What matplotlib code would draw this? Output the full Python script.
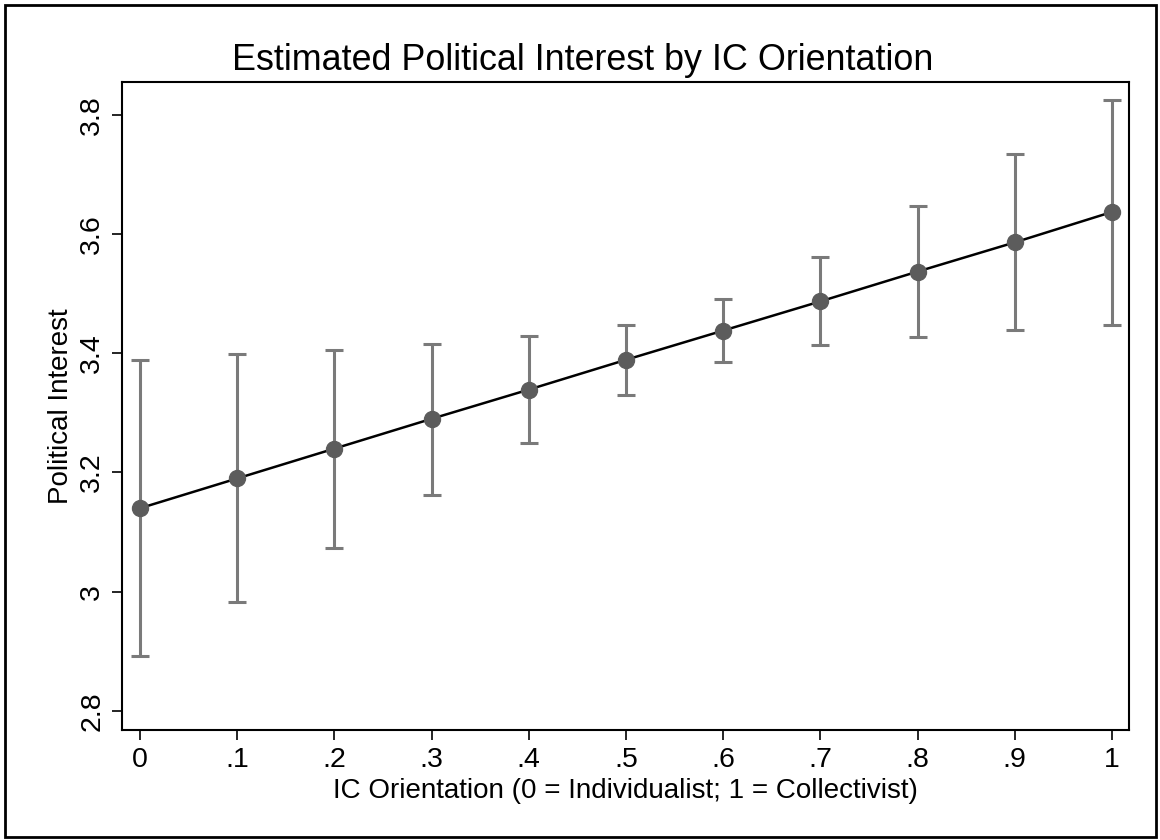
import matplotlib
matplotlib.use("Agg")
import matplotlib.pyplot as plt
from matplotlib.patches import Rectangle

plt.rcParams['font.family'] = ['Liberation Sans', 'DejaVu Sans']

# predicted political interest with 95% CIs at each IC orientation value
ic_orientation = [0, .1, .2, .3, .4, .5, .6, .7, .8, .9, 1]
estimate = [3.140, 3.190, 3.240, 3.290, 3.339, 3.389, 3.438, 3.487, 3.537, 3.586, 3.637]
ci_low = [2.892, 2.982, 3.073, 3.162, 3.249, 3.330, 3.386, 3.414, 3.428, 3.439, 3.448]
ci_high = [3.389, 3.398, 3.406, 3.416, 3.429, 3.448, 3.491, 3.562, 3.647, 3.735, 3.825]
x_ticklabels = ['0', '.1', '.2', '.3', '.4', '.5', '.6', '.7', '.8', '.9', '1']
y_ticks = [2.8, 3.0, 3.2, 3.4, 3.6, 3.8]
y_ticklabels = ['2.8', '3', '3.2', '3.4', '3.6', '3.8']

fig = plt.figure(figsize=(11.6, 8.4), dpi=100)
ax = fig.add_axes([122/1160, 1 - 730/840, (1129-122)/1160, (730-82)/840])

yerr = [[e - l for e, l in zip(estimate, ci_low)],
        [h - e for e, h in zip(estimate, ci_high)]]
ax.errorbar(ic_orientation, estimate, yerr=yerr, fmt='none',
            ecolor='#7a7a7a', elinewidth=2.2, capsize=6.5, capthick=2.2, zorder=2)
ax.plot(ic_orientation, estimate, color='black', lw=1.8, zorder=3)
ax.plot(ic_orientation, estimate, 'o', color='#5c5c5c', ms=11.5, zorder=4)

ax.set_xlim(-0.0185, 1.0175)
ax.set_ylim(2.768, 3.855)
ax.set_xticks(ic_orientation)
ax.set_xticklabels(x_ticklabels)
ax.set_yticks(y_ticks)
ax.set_yticklabels(y_ticklabels, rotation=90, va='center')
ax.tick_params(length=7, width=1.2, labelsize=20.5, pad=5)
for s in ax.spines.values():
    s.set_linewidth(1.5)

ax.set_xlabel('IC Orientation (0 = Individualist; 1 = Collectivist)', fontsize=20, labelpad=4)
ax.set_ylabel('Political Interest', fontsize=20, labelpad=4)
fig.text(0.502, 1 - 60/840, 'Estimated Political Interest by IC Orientation',
         ha='center', va='center', fontsize=25.8)

# outer frame around the whole graph
fig.patches.append(Rectangle((5/1160, 3/840), 1151/1160, 832/840, transform=fig.transFigure,
                             fill=False, edgecolor='black', lw=2))

fig.savefig('out.png', dpi=100)
